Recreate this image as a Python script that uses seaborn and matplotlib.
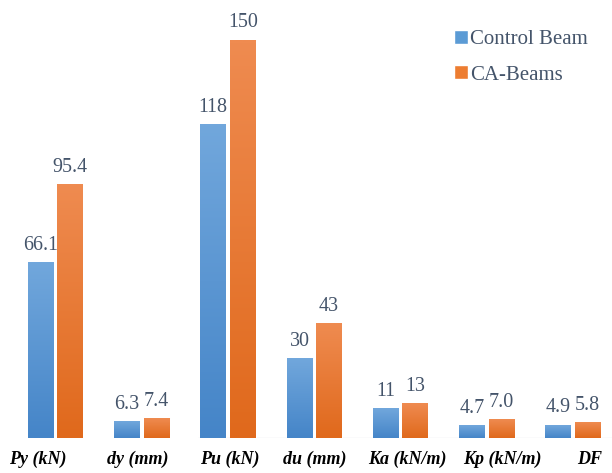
import numpy as np
import pandas as pd
import matplotlib
matplotlib.use("Agg")
import matplotlib.pyplot as plt
import matplotlib.transforms as mtransforms
from matplotlib.colors import to_rgb
import seaborn as sns

# Beam response parameters
parameters = ["Py (kN)", "dy (mm)", "Pu (kN)", "du (mm)", "Ka (kN/m)", "Kp (kN/m)", "DF"]
series_names = ["Control Beam", "CA-Beams"]
control_beam = [66.1, 6.3, 118, 30, 11, 4.7, 4.9]
ca_beams = [95.4, 7.4, 150, 43, 13, 7.0, 5.8]
control_labels = ["66.1", "6.3", "118", "30", "11", "4.7", "4.9"]
ca_labels = ["95.4", "7.4", "150", "43", "13", "7.0", "5.8"]

BLUE = "#5b9bd5"
ORANGE = "#ed7d31"
GRADIENTS = {
    BLUE: ("#71a7dc", "#4585c8"),
    ORANGE: ("#ef8b50", "#e0691c"),
}
TEXT_COLOR = "#44546a"

df = pd.DataFrame({
    "parameter": parameters * 2,
    "value": control_beam + ca_beams,
    "series": [series_names[0]] * len(parameters) + [series_names[1]] * len(parameters),
})

sns.set_theme(style="white")
plt.rcParams["font.family"] = ["Liberation Serif", "DejaVu Serif"]

W, H = 612, 473
fig = plt.figure(figsize=(W / 100, H / 100), dpi=100)
ax = fig.add_axes([12.4 / W, 35 / H, (W - 12.4) / W, 438 / H])

sns.barplot(data=df, x="parameter", y="value", hue="series",
            palette=[BLUE, ORANGE], saturation=1, width=0.684, gap=0.12,
            ax=ax, legend=True)

# vertical gradient fill over each bar
for p in list(ax.patches):
    fc = matplotlib.colors.to_hex(p.get_facecolor())
    top, bottom = GRADIENTS.get(fc, (fc, fc))
    t, b = np.array(to_rgb(top)), np.array(to_rgb(bottom))
    frac = np.linspace(0, 1, 64)[:, None]
    grad = (t * (1 - frac) + b * frac)[:, None, :]
    x0, w, h = p.get_x(), p.get_width(), p.get_height()
    ax.imshow(grad, extent=[x0, x0 + w, 0, h], aspect="auto",
              origin="upper", interpolation="bilinear", zorder=p.get_zorder() + 0.1)

ax.set_xlim(-0.5, -0.5 + (W - 12.4) / 86.25)
ax.set_ylim(0, 438 / 2.653)

# value labels
for container, labels in zip(ax.containers, [control_labels, ca_labels]):
    ax.bar_label(container, labels=labels, padding=5.5, fontsize=14.4,
                 color=TEXT_COLOR, zorder=5)

# faint baseline
ax.axhline(0, xmin=(198 - 12.4) / (W - 12.4), xmax=1, color="#e6e9ee", lw=1, zorder=0)

for s in ax.spines.values():
    s.set_visible(False)
ax.set_yticks([])
ax.set_xlabel("")
ax.set_ylabel("")
ax.tick_params(axis="x", length=0, pad=9)
ax.set_xticks(range(len(parameters)))
ax.set_xticklabels(parameters, fontsize=13, fontweight="bold", fontstyle="italic",
                   color="black")
label_shift_px = [-18, -4, 2, 0, 7, 16, 17]
for lbl, dx in zip(ax.get_xticklabels(), label_shift_px):
    lbl.set_transform(lbl.get_transform() +
                      mtransforms.ScaledTranslation(dx / 100, 0, fig.dpi_scale_trans))

leg = ax.legend(loc="upper left", bbox_to_anchor=(454 / W, 1 - 30 / H),
                bbox_transform=fig.transFigure, frameon=False, fontsize=15,
                handlelength=0.68, handleheight=0.68, handletextpad=0.1,
                labelspacing=0.75, borderpad=0, borderaxespad=0)
for txt in leg.get_texts():
    txt.set_color(TEXT_COLOR)

fig.savefig("out.png", dpi=100)
